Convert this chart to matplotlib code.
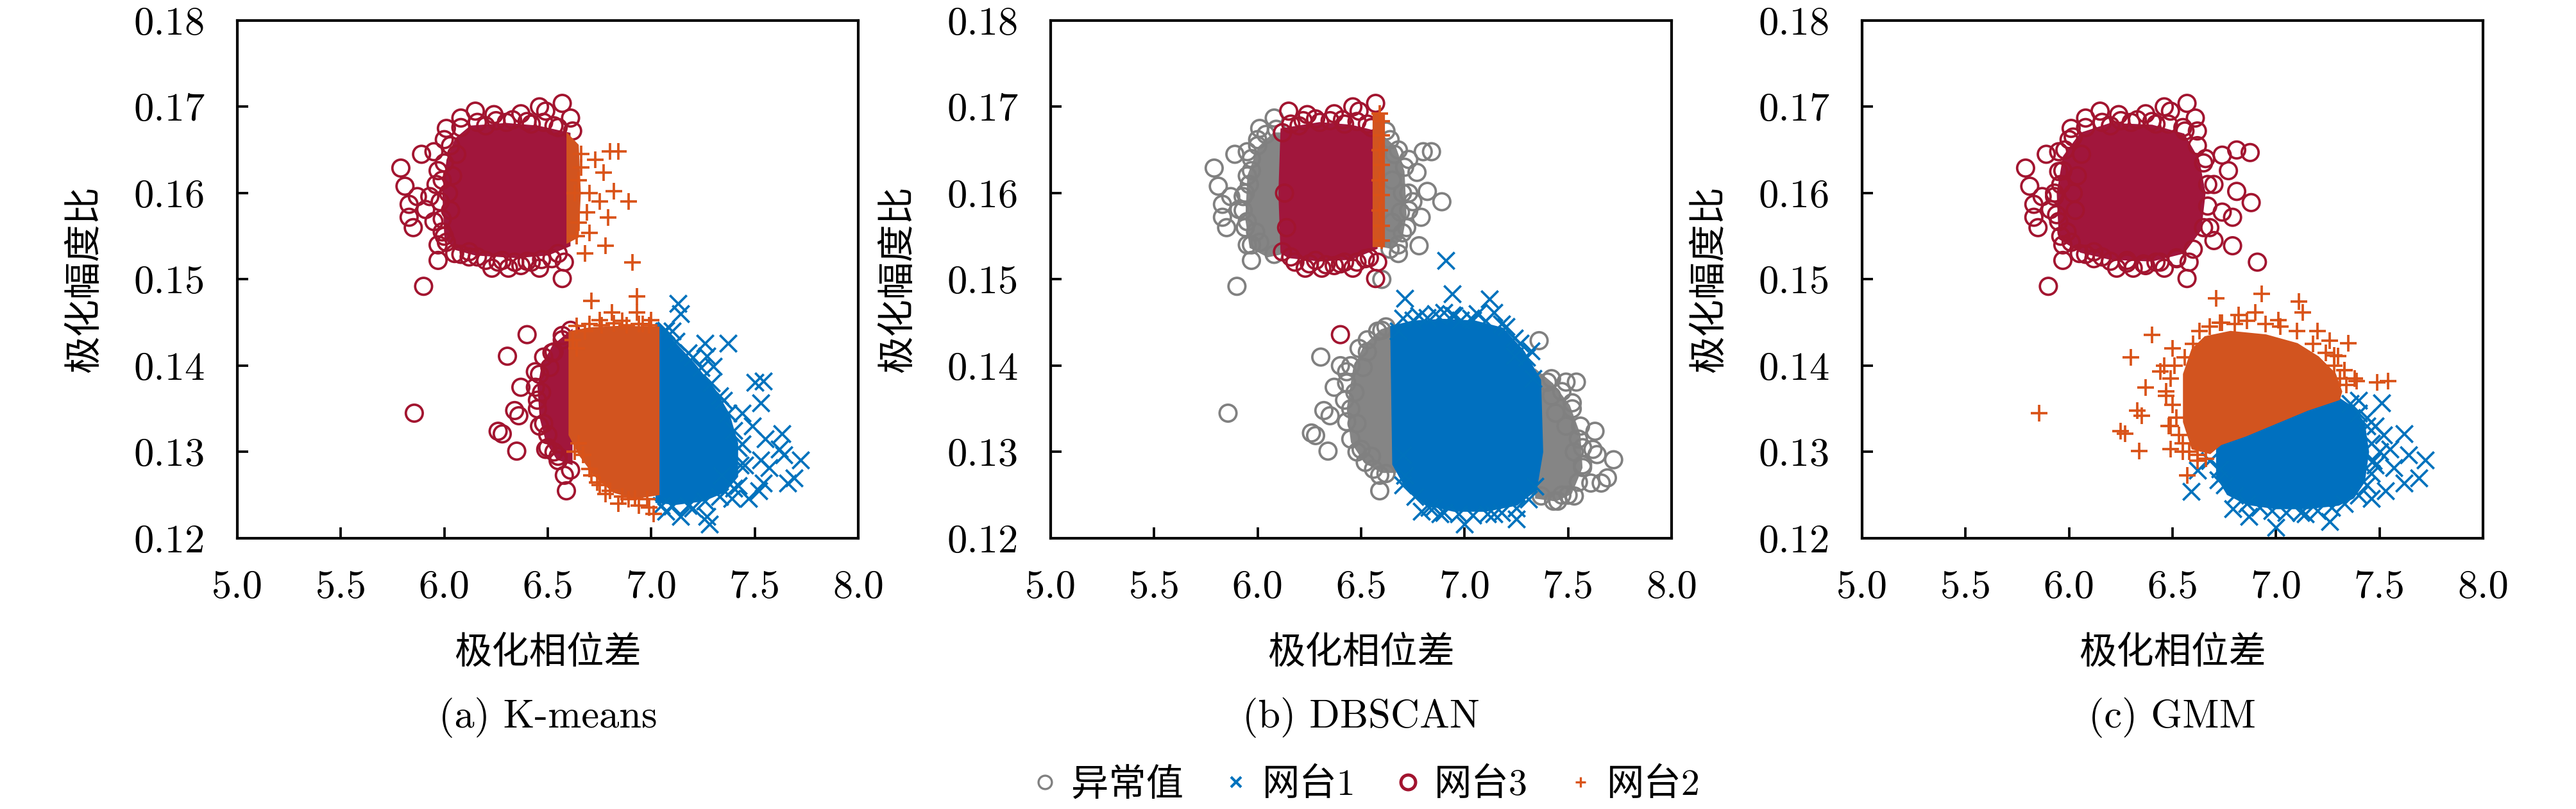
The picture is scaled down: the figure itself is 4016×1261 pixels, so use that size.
import matplotlib
matplotlib.use('Agg')
import matplotlib.pyplot as plt
from matplotlib.lines import Line2D

plt.rcParams['font.family'] = ['cmr10', 'Noto Sans CJK SC', 'DejaVu Sans']
plt.rcParams['axes.unicode_minus'] = False
plt.rcParams['axes.formatter.use_mathtext'] = True

# ---------------- text / ticks ----------------
x_ticks = [5.0, 5.5, 6.0, 6.5, 7.0, 7.5, 8.0]
x_ticklabels = ['5.0', '5.5', '6.0', '6.5', '7.0', '7.5', '8.0']
y_ticks = [0.12, 0.13, 0.14, 0.15, 0.16, 0.17, 0.18]
y_ticklabels = ['0.12', '0.13', '0.14', '0.15', '0.16', '0.17', '0.18']
x_label = '极化相位差'
y_label = '极化幅度比'
panel_titles = ['(a) K-means', '(b) DBSCAN', '(c) GMM']
series_names = ['异常值', '网台1', '网台3', '网台2']

# ---------------- (a) K-means ----------------
A_r3_x = [5.79, 5.81, 5.83, 5.83, 5.85, 5.90, 5.89, 5.95, 5.97, 5.97, 6.01, 6.08, 6.15, 6.24, 6.37,
          6.46, 6.49, 6.57, 6.61, 6.62, 6.57, 6.58, 6.46, 6.31, 6.23, 6.37, 6.16, 6.08, 6.01, 5.95,
          5.91, 5.93, 5.87, 5.97, 6.00, 6.02, 6.03, 6.04, 6.06, 6.20, 6.30, 6.42, 6.55, 6.28, 6.42,
          6.52, 6.12, 5.99, 5.96,
          5.855, 6.305, 6.40, 6.26, 6.28, 6.35, 6.34, 6.36, 6.37, 6.44, 6.49, 6.58, 6.59, 6.61, 6.61,
          6.47, 6.48, 6.51, 6.53, 6.45, 6.50, 6.55, 6.57]
A_r3_y = [0.1629, 0.1608, 0.1587, 0.1572, 0.1560, 0.1492, 0.1645, 0.1648, 0.1540, 0.1522, 0.1675, 0.1687, 0.1695, 0.1691, 0.1692,
          0.1700, 0.1695, 0.1704, 0.1687, 0.1672, 0.1501, 0.1520, 0.1513, 0.1513, 0.1513, 0.1516, 0.1526, 0.1529, 0.1543, 0.1567,
          0.1581, 0.1596, 0.1596, 0.1626, 0.1662, 0.1600, 0.1580, 0.1620, 0.1645, 0.1678, 0.1682, 0.1680, 0.1676, 0.1522, 0.1520,
          0.1524, 0.1532, 0.1555, 0.1610,
          0.1345, 0.1411, 0.1436, 0.1324, 0.1321, 0.1301, 0.1348, 0.1342, 0.1375, 0.1393, 0.1303, 0.1273, 0.1255, 0.1441, 0.1279,
          0.1369, 0.1333, 0.1398, 0.1416, 0.1350, 0.1320, 0.1295, 0.1430]
A_r3_rim_x = [6.08, 6.16, 6.25, 6.33, 6.40, 6.48, 6.53, 6.00, 5.99, 5.98, 5.99, 6.00, 6.03, 6.05, 6.12,
              6.20, 6.26, 6.34, 6.40, 6.47, 6.55,
              6.46, 6.45, 6.46, 6.50, 6.55, 6.52, 6.57, 6.44, 6.48, 6.53]
A_r3_rim_y = [0.1676, 0.1682, 0.1684, 0.1685, 0.1683, 0.1682, 0.1678, 0.1550, 0.1570, 0.1590, 0.1615, 0.1635, 0.1655, 0.1530, 0.1526,
              0.1522, 0.1520, 0.1520, 0.1521, 0.1523, 0.1530,
              0.1390, 0.1360, 0.1330, 0.1305, 0.1290, 0.1415, 0.1435, 0.1375, 0.1410, 0.1300]
A_r3_core_up_x = [6.01, 6.00, 6.02, 6.06, 6.13, 6.30, 6.45, 6.60, 6.60, 6.50, 6.35, 6.15, 6.06]
A_r3_core_up_y = [0.1548, 0.1600, 0.1638, 0.1662, 0.1676, 0.1679, 0.1676, 0.1668, 0.1540, 0.1530, 0.1527, 0.1530, 0.1536]
A_r3_core_lo_x = [6.48, 6.53, 6.61, 6.61, 6.55, 6.50, 6.47, 6.46]
A_r3_core_lo_y = [0.1400, 0.1422, 0.1438, 0.1288, 0.1293, 0.1312, 0.1340, 0.1375]

A_o2_x = [6.66, 6.73, 6.80, 6.84, 6.77, 6.82, 6.89, 6.75, 6.69, 6.79, 6.70, 6.78, 6.68, 6.91, 6.65,
          6.65, 6.63, 6.64, 6.66, 6.70,
          6.71, 6.93, 6.93, 6.81, 6.75, 7.00, 6.68, 6.86, 6.96, 6.78, 6.89, 6.99, 6.71, 6.67, 6.84,
          6.94, 6.75, 7.01, 6.65, 6.64]
A_o2_y = [0.1645, 0.1639, 0.1648, 0.1648, 0.1624, 0.1602, 0.1590, 0.1590, 0.1578, 0.1572, 0.1554, 0.1539, 0.1530, 0.1520, 0.1615,
          0.1566, 0.1600, 0.1550, 0.1630, 0.1600,
          0.1475, 0.1480, 0.1462, 0.1462, 0.1453, 0.1453, 0.1440, 0.1452, 0.1448, 0.1251, 0.1245, 0.1236, 0.1273, 0.1297, 0.1240,
          0.1238, 0.1262, 0.1228, 0.1310, 0.1420]
A_o2_rim_x = [6.64, 6.70, 6.76, 6.82, 6.88, 6.94, 6.99, 6.70, 6.74, 6.80, 6.86, 6.92, 6.98, 6.63, 6.62]
A_o2_rim_y = [0.1446, 0.1448, 0.1447, 0.1449, 0.1447, 0.1448, 0.1447, 0.1280, 0.1265, 0.1255, 0.1248, 0.1246, 0.1245, 0.1300, 0.1430]
A_o2_core_up_x = [6.60, 6.64, 6.65, 6.64, 6.60]
A_o2_core_up_y = [0.1545, 0.1550, 0.1600, 0.1655, 0.1665]
A_o2_core_lo_x = [6.61, 6.70, 6.85, 7.03, 7.03, 6.92, 6.82, 6.73, 6.66, 6.61]
A_o2_core_lo_y = [0.1438, 0.1442, 0.1444, 0.1443, 0.1252, 0.1248, 0.1255, 0.1274, 0.1297, 0.1320]

A_b1_x = [7.13, 7.14, 7.07, 7.26, 7.37, 7.27, 7.30, 7.50, 7.54, 7.53, 7.44, 7.49, 7.63, 7.55, 7.62,
          7.72, 7.64, 7.53, 7.57, 7.69, 7.66, 7.54, 7.52, 7.47, 7.39, 7.27, 7.28, 7.14, 7.07, 7.42,
          7.34, 7.44, 7.20, 7.35, 7.45, 7.20, 7.10]
A_b1_y = [0.1472, 0.1460, 0.1441, 0.1426, 0.1426, 0.1411, 0.1399, 0.1381, 0.1382, 0.1357, 0.1345, 0.1330, 0.1321, 0.1315, 0.1303,
          0.1291, 0.1297, 0.1291, 0.1282, 0.1270, 0.1264, 0.1264, 0.1255, 0.1246, 0.1246, 0.1225, 0.1216, 0.1225, 0.1231, 0.1261,
          0.1273, 0.1309, 0.1410, 0.1360, 0.1285, 0.1235, 0.1440]
A_b1_rim_x = [7.06, 7.12, 7.18, 7.24, 7.29, 7.33, 7.37, 7.40, 7.42, 7.43, 7.40, 7.33, 7.26, 7.18, 7.10, 7.05]
A_b1_rim_y = [0.1440, 0.1428, 0.1415, 0.1398, 0.1380, 0.1365, 0.1345, 0.1325, 0.1305, 0.1285, 0.1258, 0.1248, 0.1243, 0.1238, 0.1237, 0.1238]
A_b1_core_x = [7.03, 7.10, 7.20, 7.30, 7.37, 7.41, 7.41, 7.35, 7.25, 7.12, 7.03]
A_b1_core_y = [0.1443, 0.1428, 0.1402, 0.1372, 0.1343, 0.1310, 0.1272, 0.1255, 0.1245, 0.1241, 0.1243]

# ---------------- (b) DBSCAN ----------------
B_g_x = [5.79, 5.81, 5.83, 5.83, 5.85, 5.90, 5.89, 5.95, 5.97, 5.97, 6.01, 6.08, 6.08, 6.01, 5.95,
         5.91, 5.93, 5.87, 5.97, 6.00, 5.96, 5.99,
         6.66, 6.73, 6.80, 6.84, 6.77, 6.82, 6.89, 6.75, 6.69, 6.79, 6.70, 6.78, 6.68, 6.65, 6.65,
         6.70, 6.62, 6.60,
         5.857, 6.305, 6.26, 6.28, 6.34, 6.32, 6.35, 6.37, 6.43, 6.50, 6.59, 6.59, 6.60, 6.45, 6.47,
         6.48, 6.51, 6.53, 6.55, 6.62, 6.40,
         7.36, 7.40, 7.49, 7.54, 7.52, 7.63, 7.72, 7.69, 7.61, 7.53, 7.45, 7.37, 7.53, 7.44, 7.49,
         7.55, 7.62, 7.64, 7.57, 7.66, 7.47, 7.42]
B_g_y = [0.1629, 0.1608, 0.1587, 0.1572, 0.1560, 0.1492, 0.1645, 0.1648, 0.1540, 0.1522, 0.1675, 0.1687, 0.1529, 0.1543, 0.1567,
         0.1581, 0.1596, 0.1596, 0.1626, 0.1662, 0.1610, 0.1555,
         0.1645, 0.1639, 0.1648, 0.1648, 0.1624, 0.1602, 0.1590, 0.1590, 0.1578, 0.1572, 0.1554, 0.1539, 0.1530, 0.1615, 0.1566,
         0.1600, 0.1672, 0.1500,
         0.1345, 0.1410, 0.1322, 0.1319, 0.1301, 0.1348, 0.1342, 0.1375, 0.1393, 0.1303, 0.1273, 0.1255, 0.1441, 0.1350, 0.1369,
         0.1333, 0.1398, 0.1416, 0.1295, 0.1445, 0.1400,
         0.1429, 0.1381, 0.1381, 0.1381, 0.1357, 0.1324, 0.1291, 0.1270, 0.1264, 0.1249, 0.1243, 0.1249, 0.1300, 0.1345, 0.1330,
         0.1315, 0.1303, 0.1297, 0.1282, 0.1264, 0.1250, 0.1365]
B_g_rim_x = [5.95, 5.94, 5.93, 5.94, 5.95, 5.97, 6.00, 6.04, 6.09,
             6.72, 6.73, 6.73, 6.71, 6.68, 6.64, 6.68, 6.64,
             6.45, 6.43, 6.42, 6.43, 6.45, 6.48, 6.52, 6.56, 6.62, 6.58, 6.53, 6.49,
             7.42, 7.47, 7.52, 7.56, 7.57, 7.57, 7.55, 7.50, 7.43]
B_g_rim_y = [0.1540, 0.1560, 0.1580, 0.1600, 0.1620, 0.1640, 0.1655, 0.1668, 0.1674,
             0.1560, 0.1580, 0.1600, 0.1630, 0.1650, 0.1662, 0.1540, 0.1535,
             0.1400, 0.1380, 0.1360, 0.1335, 0.1315, 0.1300, 0.1288, 0.1280, 0.1275, 0.1440, 0.1430, 0.1420,
             0.1385, 0.1370, 0.1350, 0.1330, 0.1305, 0.1285, 0.1265, 0.1250, 0.1243]
B_g_core_ul_x = [5.97, 5.95, 5.96, 6.01, 6.08, 6.13, 6.13, 6.05]
B_g_core_ul_y = [0.1538, 0.1570, 0.1620, 0.1652, 0.1668, 0.1668, 0.1532, 0.1528]
B_g_core_ur_x = [6.60, 6.60, 6.66, 6.70, 6.71, 6.69, 6.64]
B_g_core_ur_y = [0.1540, 0.1665, 0.1652, 0.1625, 0.1575, 0.1548, 0.1538]
B_g_core_ll_x = [6.66, 6.60, 6.52, 6.47, 6.44, 6.46, 6.52, 6.60, 6.66]
B_g_core_ll_y = [0.1445, 0.1440, 0.1422, 0.1395, 0.1350, 0.1312, 0.1290, 0.1278, 0.1278]
B_g_core_lr_x = [7.35, 7.42, 7.50, 7.55, 7.56, 7.51, 7.44, 7.35]
B_g_core_lr_y = [0.1392, 0.1378, 0.1353, 0.1320, 0.1282, 0.1253, 0.1245, 0.1248]

B_b1_x = [6.91, 6.94, 6.71, 7.12, 7.14, 6.94, 6.75, 6.82, 6.98, 7.04, 7.27, 7.32, 7.24, 7.00, 6.79,
          6.88, 7.14, 7.25, 6.71, 6.70, 6.68, 6.90, 7.06, 7.20, 7.33, 7.34, 6.85]
B_b1_y = [0.1522, 0.1483, 0.1478, 0.1477, 0.1462, 0.1459, 0.1453, 0.1456, 0.1453, 0.1453, 0.1426, 0.1417, 0.1411, 0.1216, 0.1231,
          0.1228, 0.1228, 0.1222, 0.1273, 0.1297, 0.1440, 0.1462, 0.1460, 0.1445, 0.1385, 0.1260, 0.1236]
B_b1_rim_x = [6.70, 6.78, 6.86, 6.95, 7.03, 7.10, 7.18, 7.24, 7.30,
              6.70, 6.76, 6.83, 6.90, 6.97, 7.04, 7.11, 7.18, 7.25, 7.31]
B_b1_rim_y = [0.1455, 0.1458, 0.1460, 0.1458, 0.1455, 0.1452, 0.1448, 0.1432, 0.1410,
              0.1262, 0.1248, 0.1236, 0.1230, 0.1228, 0.1227, 0.1228, 0.1230, 0.1235, 0.1245]
B_b1_core_x = [6.65, 6.75, 6.90, 7.05, 7.18, 7.28, 7.36, 7.37, 7.34, 7.25, 7.10, 6.95, 6.82, 6.72, 6.66]
B_b1_core_y = [0.1444, 0.1450, 0.1452, 0.1450, 0.1442, 0.1416, 0.1383, 0.1300, 0.1257, 0.1240, 0.1233, 0.1233, 0.1240, 0.1260, 0.1286]

B_r3_x = [6.15, 6.24, 6.37, 6.46, 6.49, 6.57, 6.57, 6.58, 6.46, 6.31, 6.23, 6.37, 6.16, 6.20, 6.30,
          6.42, 6.55, 6.28, 6.42, 6.52, 6.12, 6.12, 6.40, 6.13, 6.14]
B_r3_y = [0.1695, 0.1691, 0.1692, 0.1700, 0.1695, 0.1704, 0.1501, 0.1520, 0.1513, 0.1513, 0.1513, 0.1516, 0.1526, 0.1678, 0.1682,
          0.1680, 0.1676, 0.1522, 0.1520, 0.1524, 0.1532, 0.1670, 0.1436, 0.1600, 0.1560]
B_r3_rim_x = [6.16, 6.22, 6.28, 6.35, 6.41, 6.48, 6.53, 6.18, 6.25, 6.33, 6.40, 6.48, 6.54]
B_r3_rim_y = [0.1680, 0.1684, 0.1686, 0.1684, 0.1685, 0.1683, 0.1680, 0.1520, 0.1518, 0.1517, 0.1518, 0.1520, 0.1525]
B_r3_core_x = [6.12, 6.11, 6.12, 6.30, 6.45, 6.57, 6.57, 6.45, 6.30, 6.15]
B_r3_core_y = [0.1532, 0.1600, 0.1673, 0.1680, 0.1677, 0.1670, 0.1537, 0.1525, 0.1523, 0.1527]

B_o2_x = [6.60, 6.60, 6.59, 6.60, 6.59, 6.60, 6.59, 6.60, 6.60, 6.59]
B_o2_y = [0.1545, 0.1562, 0.1580, 0.1598, 0.1615, 0.1633, 0.1650, 0.1667, 0.1683, 0.1692]
B_o2_rim_x = []
B_o2_rim_y = []
B_o2_core_x = [6.565, 6.605, 6.605, 6.565]
B_o2_core_y = [0.1540, 0.1540, 0.1690, 0.1690]

# ---------------- (c) GMM ----------------
C_r3_x = [5.79, 5.81, 5.83, 5.83, 5.85, 5.90, 5.89, 5.95, 5.97, 5.97, 6.01, 6.08, 6.15, 6.24, 6.37,
          6.46, 6.49, 6.57, 6.61, 6.62, 6.57, 6.58, 6.46, 6.31, 6.23, 6.37, 6.16, 6.08, 6.01, 5.95,
          5.91, 5.93, 5.87, 5.97, 6.00, 6.02, 6.03, 6.04, 6.06, 6.20, 6.30, 6.42, 6.55, 6.28, 6.42,
          6.52, 6.12, 5.99, 5.96,
          6.74, 6.81, 6.875, 6.77, 6.81, 6.88, 6.74, 6.79, 6.79, 6.91, 6.70, 6.68, 6.66, 6.70]
C_r3_y = [0.1629, 0.1608, 0.1587, 0.1572, 0.1560, 0.1492, 0.1645, 0.1648, 0.1540, 0.1522, 0.1675, 0.1687, 0.1695, 0.1691, 0.1692,
          0.1700, 0.1695, 0.1704, 0.1687, 0.1672, 0.1501, 0.1520, 0.1513, 0.1513, 0.1513, 0.1516, 0.1526, 0.1529, 0.1543, 0.1567,
          0.1581, 0.1596, 0.1596, 0.1626, 0.1662, 0.1600, 0.1580, 0.1620, 0.1645, 0.1678, 0.1682, 0.1680, 0.1676, 0.1522, 0.1520,
          0.1524, 0.1532, 0.1555, 0.1610,
          0.1644, 0.1650, 0.1647, 0.1626, 0.1602, 0.1589, 0.1578, 0.1572, 0.1539, 0.1520, 0.1610, 0.1560, 0.1640, 0.1545]
C_r3_rim_x = [6.08, 6.16, 6.25, 6.33, 6.40, 6.48, 6.56, 6.62, 5.96, 5.94, 5.93, 5.95, 5.98, 6.02,
              6.05, 6.12, 6.20, 6.28, 6.36, 6.44, 6.52, 6.60, 6.65, 6.67, 6.67, 6.65]
C_r3_rim_y = [0.1676, 0.1682, 0.1684, 0.1685, 0.1683, 0.1680, 0.1672, 0.1655, 0.1550, 0.1575, 0.1600, 0.1625, 0.1650, 0.1665,
              0.1530, 0.1524, 0.1521, 0.1519, 0.1518, 0.1520, 0.1525, 0.1535, 0.1560, 0.1585, 0.1610, 0.1635]
C_r3_core_x = [5.96, 5.95, 5.98, 6.06, 6.20, 6.40, 6.55, 6.62, 6.65, 6.63, 6.55, 6.40, 6.20, 6.06]
C_r3_core_y = [0.1548, 0.1600, 0.1642, 0.1668, 0.1679, 0.1677, 0.1667, 0.1638, 0.1600, 0.1558, 0.1532, 0.1523, 0.1525, 0.1533]

C_o2_x = [5.856, 6.30, 6.40, 6.25, 6.27, 6.34, 6.33, 6.35, 6.37, 6.44, 6.49, 6.57, 6.71, 6.93, 7.11,
          7.13, 7.35, 7.39, 7.49, 7.54, 6.74, 6.82, 7.01, 7.26, 7.30, 6.47, 6.46, 6.50, 6.48, 6.55,
          6.62, 6.90, 7.20, 7.33]
C_o2_y = [0.1345, 0.1410, 0.1436, 0.1324, 0.1321, 0.1301, 0.1348, 0.1342, 0.1375, 0.1393, 0.1303, 0.1273, 0.1478, 0.1483, 0.1474,
          0.1462, 0.1426, 0.1382, 0.1381, 0.1382, 0.1450, 0.1459, 0.1453, 0.1429, 0.1411, 0.1370, 0.1400, 0.1420, 0.1330, 0.1300,
          0.1290, 0.1462, 0.1440, 0.1395]
C_o2_rim_x = [6.51, 6.49, 6.47, 6.50, 6.52, 6.49, 6.53, 6.55, 6.58, 6.62, 6.66, 6.56, 6.60, 6.63, 6.68,
              6.73, 6.80, 6.86, 6.95, 7.02, 7.10, 7.18, 7.24, 7.28, 7.31, 7.34, 7.38, 7.33, 7.28]
C_o2_rim_y = [0.1400, 0.1385, 0.1365, 0.1355, 0.1340, 0.1330, 0.1320, 0.1310, 0.1300, 0.1297, 0.1292, 0.1410, 0.1425, 0.1440, 0.1445,
              0.1450, 0.1448, 0.1452, 0.1448, 0.1445, 0.1440, 0.1425, 0.1415, 0.1400, 0.1385, 0.1378, 0.1385, 0.1395, 0.1412]
C_o2_core_x = [6.56, 6.56, 6.60, 6.66, 6.78, 6.95, 7.10, 7.20, 7.28, 7.31, 7.30, 7.15, 7.00, 6.85, 6.73, 6.68, 6.60]
C_o2_core_y = [0.1335, 0.1390, 0.1418, 0.1432, 0.1438, 0.1434, 0.1424, 0.1409, 0.1390, 0.1370, 0.1362, 0.1350, 0.1335, 0.1320,
               0.1310, 0.1300, 0.1305]

C_b1_x = [6.59, 6.62, 7.51, 7.62, 7.72, 7.69, 7.62, 7.53, 7.46, 7.26, 7.00, 6.87, 6.79, 7.55, 7.48,
          7.44, 7.40, 7.14, 6.72, 6.68, 7.57, 7.64]
C_b1_y = [0.1254, 0.1279, 0.1357, 0.1321, 0.1291, 0.1270, 0.1264, 0.1255, 0.1246, 0.1219, 0.1213, 0.1225, 0.1234, 0.1303, 0.1285,
          0.1340, 0.1360, 0.1228, 0.1268, 0.1290, 0.1282, 0.1297]
C_b1_rim_x = [6.73, 6.75, 6.80, 6.86, 6.92, 6.98, 7.05, 7.12, 7.20, 7.27, 7.33, 7.40, 7.44, 7.46, 7.47,
              7.46, 7.44, 7.40, 7.36, 7.50, 7.52, 7.48]
C_b1_rim_y = [0.1280, 0.1262, 0.1250, 0.1240, 0.1236, 0.1232, 0.1230, 0.1230, 0.1232, 0.1236, 0.1240, 0.1250, 0.1262, 0.1275, 0.1290,
              0.1310, 0.1330, 0.1345, 0.1356, 0.1300, 0.1320, 0.1330]
C_b1_core_x = [6.72, 6.85, 7.00, 7.15, 7.30, 7.37, 7.42, 7.44, 7.42, 7.37, 7.30, 7.15, 7.00, 6.86, 6.77, 6.72]
C_b1_core_y = [0.1305, 0.1320, 0.1335, 0.1350, 0.1361, 0.1350, 0.1333, 0.1300, 0.1266, 0.1248, 0.1240, 0.1236, 0.1236, 0.1241,
               0.1252, 0.1272]

# ---------------- styles ----------------
COL = {'异常值': '#808080', '网台1': '#0072BD', '网台3': '#A2142F', '网台2': '#D95319'}
CORE_COL = {'异常值': '#858585', '网台1': '#0070BF', '网台3': '#A1163C', '网台2': '#D2541F'}
MARK = {'异常值': 'o', '网台1': 'x', '网台3': 'o', '网台2': '+'}
Z = {'异常值': 2, '网台1': 3, '网台3': 4, '网台2': 5}

panels = [
    {'网台3': (A_r3_x + A_r3_rim_x, A_r3_y + A_r3_rim_y,
              [(A_r3_core_up_x, A_r3_core_up_y), (A_r3_core_lo_x, A_r3_core_lo_y)]),
     '网台2': (A_o2_x + A_o2_rim_x, A_o2_y + A_o2_rim_y,
              [(A_o2_core_up_x, A_o2_core_up_y), (A_o2_core_lo_x, A_o2_core_lo_y)]),
     '网台1': (A_b1_x + A_b1_rim_x, A_b1_y + A_b1_rim_y, [(A_b1_core_x, A_b1_core_y)])},
    {'异常值': (B_g_x + B_g_rim_x, B_g_y + B_g_rim_y,
              [(B_g_core_ul_x, B_g_core_ul_y), (B_g_core_ur_x, B_g_core_ur_y),
               (B_g_core_ll_x, B_g_core_ll_y), (B_g_core_lr_x, B_g_core_lr_y)]),
     '网台1': (B_b1_x + B_b1_rim_x, B_b1_y + B_b1_rim_y, [(B_b1_core_x, B_b1_core_y)]),
     '网台3': (B_r3_x + B_r3_rim_x, B_r3_y + B_r3_rim_y, [(B_r3_core_x, B_r3_core_y)]),
     '网台2': (B_o2_x + B_o2_rim_x, B_o2_y + B_o2_rim_y, [(B_o2_core_x, B_o2_core_y)])},
    {'网台3': (C_r3_x + C_r3_rim_x, C_r3_y + C_r3_rim_y, [(C_r3_core_x, C_r3_core_y)]),
     '网台2': (C_o2_x + C_o2_rim_x, C_o2_y + C_o2_rim_y, [(C_o2_core_x, C_o2_core_y)]),
     '网台1': (C_b1_x + C_b1_rim_x, C_b1_y + C_b1_rim_y, [(C_b1_core_x, C_b1_core_y)])},
]

W, H = 4016, 1261
fig = plt.figure(figsize=(W / 300, H / 300), dpi=300)
lefts = [370, 1638, 2903]
ax_w, ax_top, ax_bot = 968, 32, 839

for i, (pdata, title) in enumerate(zip(panels, panel_titles)):
    ax = fig.add_axes([lefts[i] / W, 1 - ax_bot / H, ax_w / W, (ax_bot - ax_top) / H])
    for name in series_names:
        if name not in pdata:
            continue
        xs, ys, cores = pdata[name]
        for cx, cy in cores:
            ax.fill(cx, cy, color=CORE_COL[name], lw=1.5, ec=CORE_COL[name], zorder=Z[name])
        if MARK[name] == 'o':
            ax.scatter(xs, ys, s=40, marker='o', facecolors='none', edgecolors=COL[name],
                       linewidths=0.9, zorder=Z[name])
        else:
            ax.scatter(xs, ys, s=40, marker=MARK[name], c=COL[name], linewidths=0.9, zorder=Z[name])
    ax.set_xlim(5.0, 8.0)
    ax.set_ylim(0.12, 0.18)
    ax.set_xticks(x_ticks)
    ax.set_xticklabels(x_ticklabels)
    ax.set_yticks(y_ticks)
    ax.set_yticklabels(y_ticklabels)
    ax.tick_params(direction='in', length=4, width=0.9, labelsize=15, pad=12,
                   top=False, right=False)
    for sp in ax.spines.values():
        sp.set_linewidth(1.0)
    ax.set_xlabel(x_label, fontsize=14)
    ax.xaxis.set_label_coords(0.5, -(1018 - ax_bot) / (ax_bot - ax_top))
    ax.xaxis.label.set_va('center')
    ax.set_ylabel(y_label, fontsize=14)
    ax.yaxis.set_label_coords(-238 / ax_w, 0.5)
    ax.yaxis.label.set_va('center')
    ax.text(0.5, -(1118 - ax_bot) / (ax_bot - ax_top), title, transform=ax.transAxes,
            ha='center', va='center', fontsize=15)

handles = [
    Line2D([], [], ls='none', marker='o', mfc='none', mec=COL['异常值'], ms=5, mew=0.8),
    Line2D([], [], ls='none', marker='x', color=COL['网台1'], ms=4, mew=1.0),
    Line2D([], [], ls='none', marker='o', mfc='none', mec=COL['网台3'], ms=5.5, mew=1.2),
    Line2D([], [], ls='none', marker='+', color=COL['网台2'], ms=4, mew=0.8),
]
fig.legend(handles, series_names, loc='center', bbox_to_anchor=(2128 / W, 1 - 1223 / H),
           ncol=4, frameon=False, fontsize=14, handlelength=0.8, handletextpad=0.3,
           columnspacing=1.0, borderpad=0.1)

fig.savefig('out.png', dpi=300)
